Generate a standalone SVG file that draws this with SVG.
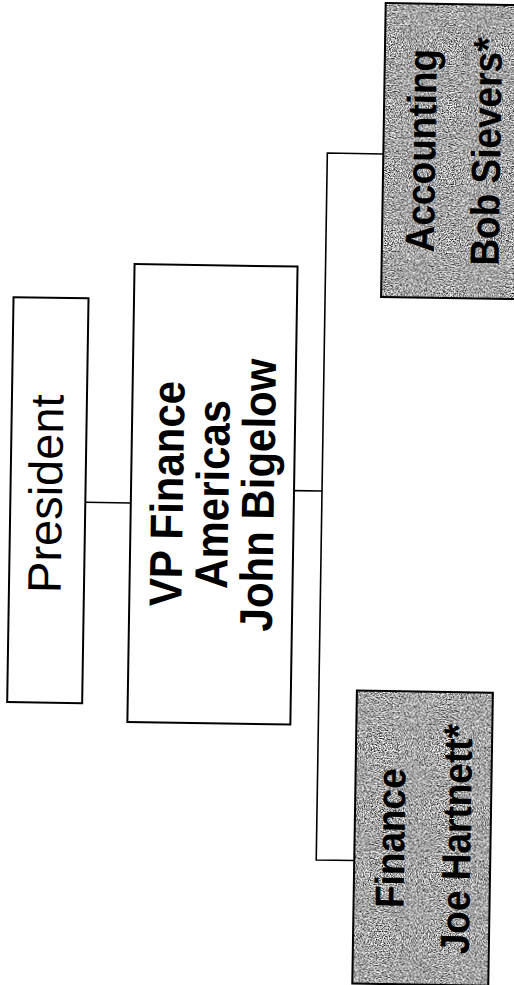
<svg xmlns="http://www.w3.org/2000/svg" width="514" height="985" viewBox="0 0 514 985">
  <style>
    .box { fill: #ffffff; stroke: #000000; stroke-width: 2; }
    .shade { fill: #ababab; filter: url(#grain); }
    .frame { fill: none; stroke: #000000; stroke-width: 2; }
    .conn { fill: none; stroke: #000000; stroke-width: 1.6; }
    .reg { font-family: "Liberation Sans", Arial, sans-serif; font-size: 47px; fill: #000000; text-anchor: middle; }
    .bold { font-family: "Liberation Sans", Arial, sans-serif; font-weight: bold; fill: #000000; text-anchor: middle; }
    .b42 { font-size: 42px; }
    .b37 { font-size: 37px; }
  </style>
  <defs>
    <filter id="grain" x="0" y="0" width="100%" height="100%" color-interpolation-filters="sRGB">
      <feTurbulence type="fractalNoise" baseFrequency="0.85" numOctaves="2" seed="7" result="n"/>
      <feColorMatrix in="n" type="matrix" values="2.2 0 0 0 -0.45  2.2 0 0 0 -0.45  2.2 0 0 0 -0.45  0 0 0 0 1" result="g"/>
      <feComposite in="g" in2="SourceGraphic" operator="in"/>
    </filter>
  </defs>
  <rect x="0" y="0" width="514" height="985" fill="#ffffff"/>
  <g transform="rotate(0.9 257 492)">
    <g id="connectors">
      <line class="conn" x1="85.5" y1="505" x2="131" y2="505"/>
      <line class="conn" x1="294" y1="490" x2="322" y2="490"/>
      <path class="conn" d="M378,152 H322 V859 H360"/>
    </g>
    <g id="president">
      <rect class="box" x="10.5" y="301" width="75" height="405"/>
      <text class="reg" transform="translate(62,497) rotate(-90)">President</text>
    </g>
    <g id="vp-finance">
      <rect class="box" x="131" y="266" width="163" height="458"/>
      <text class="bold b42" transform="translate(183,495) rotate(-90) scale(1,1.1)">VP Finance</text>
      <text class="bold b42" transform="translate(228.5,495) rotate(-90) scale(1,1.1)">Americas</text>
      <text class="bold b42" transform="translate(274,495) rotate(-90) scale(1,1.1)">John Bigelow</text>
    </g>
    <g id="accounting">
      <rect class="shade" x="378" y="1" width="142" height="294"/>
      <rect class="frame" x="378" y="1" width="142" height="294"/>
      <text class="bold b37" transform="translate(430,148) rotate(-90) scale(1,1.1)">Accounting</text>
      <text class="bold b37" transform="translate(495,148) rotate(-90) scale(1,1.1)">Bob Sievers*</text>
    </g>
    <g id="finance">
      <rect class="shade" x="360" y="689" width="136" height="293"/>
      <rect class="frame" x="360" y="689" width="136" height="293"/>
      <text class="bold b37" transform="translate(410,836) rotate(-90) scale(1,1.1)">Finance</text>
      <text class="bold b37" transform="translate(476,836) rotate(-90) scale(1,1.1)">Joe Hartnett*</text>
    </g>
  </g>
</svg>
